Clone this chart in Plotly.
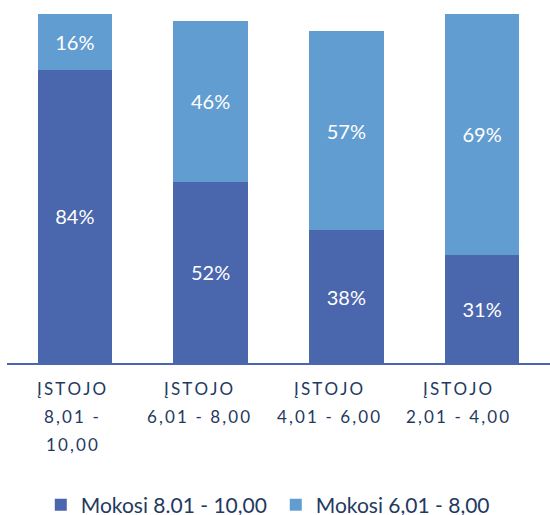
import plotly.graph_objects as go

categories = ["ĮSTOJO 8,01 - 10,00", "ĮSTOJO 6,01 - 8,00", "ĮSTOJO 4,01 - 6,00", "ĮSTOJO 2,01 - 4,00"]
tick_lines = [["ĮSTOJO", "8,01 -", "10,00"], ["ĮSTOJO", "6,01 - 8,00"], ["ĮSTOJO", "4,01 - 6,00"], ["ĮSTOJO", "2,01 - 4,00"]]
series_names = ["Mokosi 8.01 - 10,00", "Mokosi 6,01 - 8,00"]
high_vals = [84, 52, 38, 31]
mid_vals = [16, 46, 57, 69]

DARK = "#4A66AC"
LIGHT = "#629DD1"
TXT = "#1F3A5F"
FONT = "Lato, 'Open Sans', sans-serif"

fig = go.Figure()
for name, vals, col in [(series_names[0], high_vals, DARK), (series_names[1], mid_vals, LIGHT)]:
    fig.add_trace(go.Bar(
        x=categories, y=vals, name=name, marker=dict(color=col, line=dict(width=0)),
        text=[f"{v}%" for v in vals], textposition="inside", insidetextanchor="middle",
        textfont=dict(color="white", size=20, family=FONT), hoverinfo="skip",
    ))

def spaced(s):
    return "\u2009".join(list(s))

shifts = [-3, -12, -18, -25]
for i, lines in enumerate(tick_lines):
    for j, line in enumerate(lines):
        fig.add_annotation(
            x=categories[i], xref="x", y=0, yref="paper", yshift=-25 - 28 * j,
            text=spaced(line), showarrow=False, xshift=shifts[i],
            font=dict(size=17, color=TXT, family=FONT), yanchor="middle",
        )

fig.update_layout(
    width=550, height=515, barmode="stack", bargap=0.45,
    margin=dict(l=7, r=0, t=14, b=152, autoexpand=False),
    paper_bgcolor="white", plot_bgcolor="white",
    font=dict(family=FONT, color=TXT),
    showlegend=True,
    legend=dict(orientation="h", x=0.495, xanchor="center", y=-0.407, yanchor="middle",
                traceorder="normal", bgcolor="rgba(0,0,0,0)",
                font=dict(size=21, color=TXT, family=FONT), itemwidth=30,
                entrywidthmode="pixels", entrywidth=190),
    xaxis=dict(showticklabels=False, showline=True, linecolor=DARK, linewidth=2,
               ticks="", showgrid=False, zeroline=False),
    yaxis=dict(visible=False, range=[0, 100], showgrid=False, zeroline=False),
)

fig.write_html("out.html", config={"displayModeBar": False},
               post_script="document.body.style.margin='0';")
